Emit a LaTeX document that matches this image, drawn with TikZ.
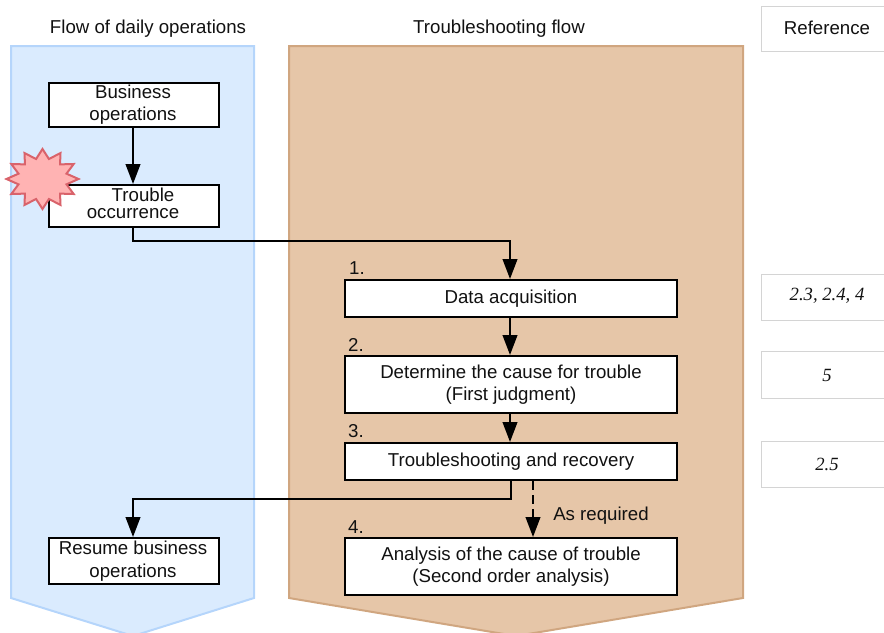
\documentclass[tikz,border=0pt]{standalone}
\usepackage{fontspec}
\setmainfont{Liberation Sans}
\newfontfamily\refserif{Liberation Serif}
\usetikzlibrary{arrows.meta,shapes.geometric,calc}
\definecolor{blueband}{HTML}{DAEBFE}
\definecolor{blueedge}{HTML}{B5D5FB}
\definecolor{tanband}{HTML}{E6C6A8}
\definecolor{tanedge}{HTML}{D0A680}
\definecolor{starfill}{HTML}{FFB3B3}
\definecolor{staredge}{HTML}{D9636B}
\definecolor{refedge}{HTML}{D4D4D4}
\definecolor{ink}{HTML}{111111}
\tikzset{
  x=0.75pt,y=-0.75pt,
  txt/.style={font=\fontsize{14}{17}\selectfont,text=ink,inner sep=0pt},
  flowbox/.style={draw=black,line width=1.5pt,fill=white,inner sep=0pt,anchor=north west,align=center,txt},
  refbox/.style={draw=refedge,line width=1.3pt,fill=white,inner sep=0pt,anchor=north west,align=center,font=\refserif\itshape\fontsize{14}{16}\selectfont,text=ink},
  flowarrow/.style={draw=black,line width=1.5pt,-{Triangle[length=15pt,width=11pt]}},
  flowline/.style={draw=black,line width=1.5pt},
}
\begin{document}
\begin{tikzpicture}
\useasboundingbox (0,0) rectangle (884,632);
\begin{scope}
\clip (0,0) rectangle (884,632);
\draw[fill=blueband,draw=blueedge,line width=1.5pt] (11,46) -- (254,46) -- (254,598) -- (133,636) -- (11,598) -- cycle;
\draw[fill=tanband,draw=tanedge,line width=1.5pt] (289,46) -- (743,46) -- (743,598) -- (516,636) -- (289,598) -- cycle;
\node[refbox,minimum width=130*0.75pt,minimum height=45*0.75pt] (r0) at (760.5,5.5) {};
\node[refbox,minimum width=130*0.75pt,minimum height=46*0.75pt] (r1) at (760.5,273.5) {};
\node[refbox,minimum width=130*0.75pt,minimum height=47*0.75pt] (r2) at (760.5,350.5) {};
\node[refbox,minimum width=130*0.75pt,minimum height=46*0.75pt] (r3) at (760.5,440.5) {};
\end{scope}
\node[txt] (t0) at (827,28) {Reference};
\node[refbox,draw=none,fill=none,anchor=center] (t1) at (827,296) {2.3, 2.4, 4};
\node[refbox,draw=none,fill=none,anchor=center] (t2) at (827,375) {5};
\node[refbox,draw=none,fill=none,anchor=center] (t3) at (827,464) {2.5};
\node[txt] (h1) at (148,29) {Flow of daily operations};
\node[txt] (h2) at (499,29) {Troubleshooting flow};
\node[flowbox,minimum width=170*0.75pt,minimum height=44*0.75pt] (b1) at (48,82) {};
\node[txt,align=center,font=\fontsize{14}{16.5}\selectfont] (b1t) at (133,105) {Business\\operations};
\node[flowbox,minimum width=170*0.75pt,minimum height=42*0.75pt] (b2) at (48,184) {};
\node[txt,align=center,font=\fontsize{14}{12.8}\selectfont] (b2t) at (133,203.5) {\hspace*{15pt}Trouble\\occurrence};
\node[flowbox,minimum width=170*0.75pt,minimum height=46*0.75pt] (b3) at (48,537) {};
\node[txt,align=center,font=\fontsize{14}{17}\selectfont] (b3t) at (133,561) {Resume business\\operations};
\node[flowbox,minimum width=332*0.75pt,minimum height=37*0.75pt] (c1) at (344,279) {Data acquisition};
\node[flowbox,minimum width=332*0.75pt,minimum height=57*0.75pt] (c2) at (344,355) {};
\node[txt,align=center,font=\fontsize{14}{16.5}\selectfont] (c2t) at (c2.center) {Determine the cause for trouble\\(First judgment)};
\node[flowbox,minimum width=332*0.75pt,minimum height=37*0.75pt] (c3) at (344,442) {Troubleshooting and recovery};
\node[flowbox,minimum width=332*0.75pt,minimum height=57*0.75pt] (c4) at (344,537) {};
\node[txt,align=center,font=\fontsize{14}{17}\selectfont] (c4t) at (c4.center) {Analysis of the cause of trouble\\(Second order analysis)};
\node[txt] (n1) at (357,268) {1.};
\node[txt] (n2) at (356,345) {2.};
\node[txt] (n3) at (356,431) {3.};
\node[txt] (n4) at (356,527) {4.};
\node[txt] (req) at (601,516) {As required};
\node[star,star points=12,star point ratio=1.45,draw=staredge,fill=starfill,line width=1.5pt,inner sep=0pt,minimum size=60*0.75pt,xscale=1.2,transform shape] (burst) at (42.5,179) {};
\coordinate (a1) at (133,241);
\coordinate (a2) at (510,241);
\coordinate (a3) at (511,499);
\coordinate (a4) at (133,499);
\coordinate (a5) at (533,516);
\draw[flowarrow] (b1.south-|b1t) -- (b2.north-|b1t);
\draw[flowarrow] (b2.south-|b1t) -- (a1) -- (a2) -- (c1.north-|a2);
\draw[flowarrow] (c1.south-|a2) -- (c2.north-|a2);
\draw[flowarrow] (c2.south-|a2) -- (c3.north-|a2);
\draw[flowarrow] (c3.south-|a3) -- (a3) -- (a4) -- (b3.north-|a4);
\draw[flowline,dash pattern=on 7pt off 3.5pt] (c3.south-|a5) -- (a5);
\draw[flowarrow] (a5) -- (c4.north-|a5);
\end{tikzpicture}
\end{document}
